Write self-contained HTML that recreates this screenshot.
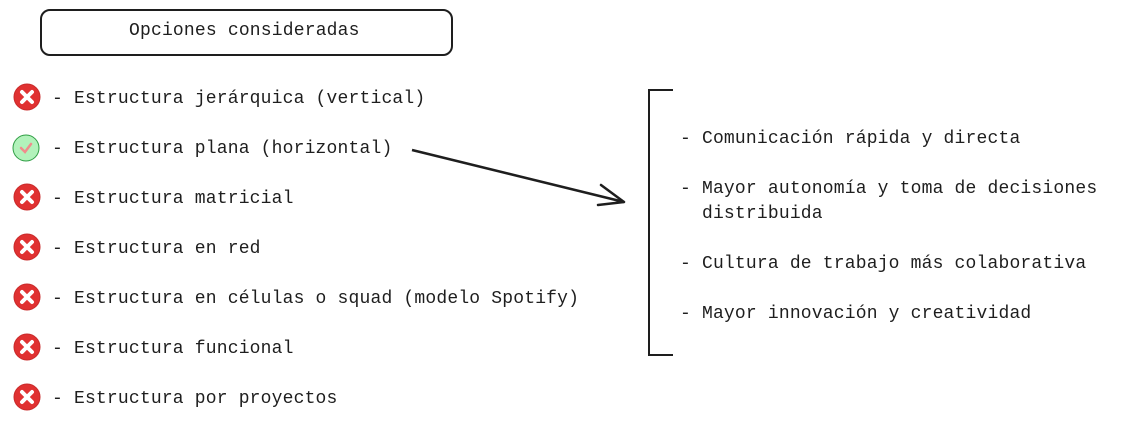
<!DOCTYPE html>
<html><head><meta charset="utf-8"><style>
body{margin:0;width:1131px;height:425px;background:#fff;position:relative;overflow:hidden;font-family:"Liberation Mono",monospace;font-size:18px;color:#1e1e1e;letter-spacing:0.18px}
.t{position:absolute;white-space:pre;line-height:25px}
</style></head><body>
<svg width="1131" height="425" style="position:absolute;left:0;top:0">
<rect x="41" y="10" width="411" height="45" rx="9" fill="none" stroke="#1e1e1e" stroke-width="2"/>
<path d="M673 90 L649 90 L649 355 L673 355" fill="none" stroke="#1e1e1e" stroke-width="2"/>
<path d="M412 150 L624 202" stroke="#1e1e1e" stroke-width="2.5"/>
<path d="M601 185 L624 202 L598 205" fill="none" stroke="#1e1e1e" stroke-width="2.5" stroke-linecap="round" stroke-linejoin="round"/>
<g stroke="#c92a2a" stroke-width="1">
<circle cx="27" cy="97" r="13" fill="#e03131"/>
<circle cx="27" cy="197" r="13" fill="#e03131"/>
<circle cx="27" cy="247" r="13" fill="#e03131"/>
<circle cx="27" cy="297" r="13" fill="#e03131"/>
<circle cx="27" cy="347" r="13" fill="#e03131"/>
<circle cx="27" cy="397" r="13" fill="#e03131"/>
</g>
<g stroke="#fff" stroke-width="4" stroke-linecap="round">
<path d="M22 92l10 10M32 92l-10 10"/>
<path d="M22 192l10 10M32 192l-10 10"/>
<path d="M22 242l10 10M32 242l-10 10"/>
<path d="M22 292l10 10M32 292l-10 10"/>
<path d="M22 342l10 10M32 342l-10 10"/>
<path d="M22 392l10 10M32 392l-10 10"/>
</g>
<circle cx="26" cy="148" r="13" fill="#b2f2bb" stroke="#2f9e44" stroke-width="1"/>
<path d="M21 148l4 4 6-8" fill="none" stroke="#f08c8c" stroke-width="2.5" stroke-linecap="round"/>
</svg>
<div class="t" style="left:129px;top:19px">Opciones consideradas</div>
<div class="t" style="left:52px;top:87px">- Estructura jerárquica (vertical)</div>
<div class="t" style="left:52px;top:137px">- Estructura plana (horizontal)</div>
<div class="t" style="left:52px;top:187px">- Estructura matricial</div>
<div class="t" style="left:52px;top:237px">- Estructura en red</div>
<div class="t" style="left:52px;top:287px">- Estructura en células o squad (modelo Spotify)</div>
<div class="t" style="left:52px;top:337px">- Estructura funcional</div>
<div class="t" style="left:52px;top:387px">- Estructura por proyectos</div>
<div class="t" style="left:680px;top:127px">- Comunicación rápida y directa</div>
<div class="t" style="left:680px;top:177px">- Mayor autonomía y toma de decisiones
  distribuida</div>
<div class="t" style="left:680px;top:252px">- Cultura de trabajo más colaborativa</div>
<div class="t" style="left:680px;top:302px">- Mayor innovación y creatividad</div>
</body></html>
